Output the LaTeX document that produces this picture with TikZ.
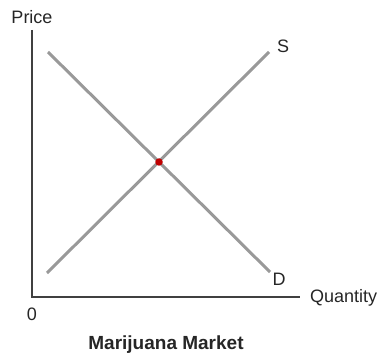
\documentclass[tikz,border=0pt]{standalone}
\usepackage{fontspec}
\setmainfont{Liberation Sans}
\begin{document}
\begin{tikzpicture}[x=1pt,y=-1pt,
  axis/.style={draw=black!75, line width=1.1pt},
  curve/.style={draw=black!40, line width=3pt},
  lbl/.style={inner sep=0pt, font=\fontsize{18}{21}\selectfont, text=black!85},
  dot/.style={circle, fill=red!75!black, inner sep=0pt, minimum size=7.5pt}]
\useasboundingbox (0,0) rectangle (377,358);
\coordinate (o) at (32,297);
\coordinate (ytop) at (32,30);
\coordinate (xend) at (300,297);
\draw[axis] (ytop) -- (o) -- (xend);
\coordinate (d1) at (48,52);
\coordinate (d2) at (270,272);
\coordinate (s1) at (47,273);
\coordinate (s2) at (269,52);
\draw[curve] (d1) -- (d2);
\draw[curve] (s1) -- (s2);
\node[dot] (eq) at (159,162) {};
\node[lbl] (price) at (32,17) {Price};
\node[lbl, anchor=west] (qty) at (310,298) {Quantity};
\node[lbl] (zero) at (32,314) {0};
\node[lbl] (slbl) at (283,46) {S};
\node[lbl] (dlbl) at (279,279) {D};
\node[lbl, font=\fontsize{19}{22}\selectfont\bfseries] (title) at (166,345) {Marijuana Market};
\end{tikzpicture}
\end{document}
